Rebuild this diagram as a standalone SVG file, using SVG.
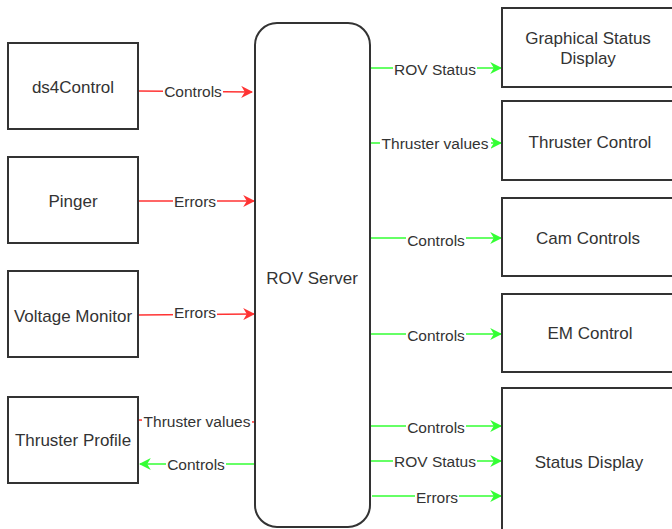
<svg xmlns="http://www.w3.org/2000/svg" width="672" height="529" viewBox="0 0 672 529">
  <style>
    .box { fill: #ffffff; stroke: #333333; stroke-width: 2; }
    .node-label { font-family: "Liberation Sans", Arial, sans-serif; font-size: 17px; fill: #333333; text-anchor: middle; dominant-baseline: central; }
    .edge-label { font-family: "Liberation Sans", Arial, sans-serif; font-size: 15.5px; fill: #333333; text-anchor: middle; dominant-baseline: central; }
    .lbl-bg { fill: #ffffff; }
    .red { stroke: #ff3333; stroke-width: 1.5; fill: none; }
    .green { stroke: #33ff33; stroke-width: 1.5; fill: none; }
  </style>
  <defs>
    <marker id="arrow-red" viewBox="0 0 10 10" refX="9" refY="5" markerWidth="7" markerHeight="7" orient="auto" markerUnits="userSpaceOnUse">
      <path d="M0,0 L10,5 L0,10 L3,5 Z" fill="#ff3333"/>
    </marker>
    <marker id="arrow-green" viewBox="0 0 10 10" refX="9" refY="5" markerWidth="12" markerHeight="12" orient="auto" markerUnits="userSpaceOnUse">
      <path d="M0,0 L10,5 L0,10 L3,5 Z" fill="#33ff33"/>
    </marker>
    <marker id="arrow-red-big" viewBox="0 0 10 10" refX="9" refY="5" markerWidth="12" markerHeight="12" orient="auto" markerUnits="userSpaceOnUse">
      <path d="M0,0 L10,5 L0,10 L3,5 Z" fill="#ff3333"/>
    </marker>
  </defs>

  <rect width="672" height="529" fill="#ffffff"/>

  <!-- connectors -->
  <g id="connectors">
    <!-- inputs into the server -->
    <line class="red" x1="138" y1="91" x2="252" y2="92" marker-end="url(#arrow-red-big)"/>
    <rect class="lbl-bg" x="163" y="83" width="60" height="16"/>
    <text class="edge-label" x="193" y="91">Controls</text>

    <line class="red" x1="138" y1="201" x2="254" y2="201" marker-end="url(#arrow-red-big)"/>
    <rect class="lbl-bg" x="173" y="193" width="44" height="16"/>
    <text class="edge-label" x="195" y="201">Errors</text>

    <line class="red" x1="138" y1="315" x2="254" y2="314" marker-end="url(#arrow-red-big)"/>
    <rect class="lbl-bg" x="173" y="304" width="44" height="16"/>
    <text class="edge-label" x="195" y="312">Errors</text>

    <line class="red" x1="255" y1="422" x2="138" y2="420"/>
    <rect class="lbl-bg" x="142" y="412" width="110" height="18"/>
    <text class="edge-label" x="197" y="421">Thruster values</text>

    <line class="green" x1="255" y1="464" x2="140" y2="464" marker-end="url(#arrow-green)"/>
    <rect class="lbl-bg" x="166" y="456" width="60" height="16"/>
    <text class="edge-label" x="196" y="464">Controls</text>

    <!-- outputs from the server -->
    <line class="green" x1="370" y1="68" x2="501" y2="68" marker-end="url(#arrow-green)"/>
    <rect class="lbl-bg" x="393" y="60" width="84" height="17"/>
    <text class="edge-label" x="435" y="69">ROV Status</text>

    <line class="green" x1="370" y1="143" x2="501" y2="143" marker-end="url(#arrow-green)"/>
    <rect class="lbl-bg" x="380" y="134" width="111" height="18"/>
    <text class="edge-label" x="435" y="143">Thruster values</text>

    <line class="green" x1="370" y1="238" x2="501" y2="238" marker-end="url(#arrow-green)"/>
    <rect class="lbl-bg" x="406" y="231" width="60" height="17"/>
    <text class="edge-label" x="436" y="240">Controls</text>

    <line class="green" x1="370" y1="334" x2="501" y2="334" marker-end="url(#arrow-green)"/>
    <rect class="lbl-bg" x="406" y="327" width="60" height="17"/>
    <text class="edge-label" x="436" y="335">Controls</text>

    <line class="green" x1="370" y1="426" x2="501" y2="426" marker-end="url(#arrow-green)"/>
    <rect class="lbl-bg" x="406" y="418" width="60" height="17"/>
    <text class="edge-label" x="436" y="427">Controls</text>

    <line class="green" x1="370" y1="461" x2="501" y2="461" marker-end="url(#arrow-green)"/>
    <rect class="lbl-bg" x="393" y="453" width="84" height="17"/>
    <text class="edge-label" x="435" y="461">ROV Status</text>

    <line class="green" x1="372" y1="496" x2="501" y2="496" marker-end="url(#arrow-green)"/>
    <rect class="lbl-bg" x="415" y="488" width="44" height="17"/>
    <text class="edge-label" x="437" y="497">Errors</text>
  </g>

  <!-- central server -->
  <g id="rov-server">
    <rect class="box" x="255" y="23" width="115" height="504" rx="22" ry="22"/>
    <text class="node-label" x="312" y="278">ROV Server</text>
  </g>

  <!-- producers on the left -->
  <g id="ds4control">
    <rect class="box" x="8" y="43" width="130" height="86"/>
    <text class="node-label" x="73" y="87">ds4Control</text>
  </g>
  <g id="pinger">
    <rect class="box" x="8" y="157" width="130" height="86"/>
    <text class="node-label" x="73" y="201">Pinger</text>
  </g>
  <g id="voltage-monitor">
    <rect class="box" x="8" y="271" width="130" height="86"/>
    <text class="node-label" x="73" y="316">Voltage Monitor</text>
  </g>
  <g id="thruster-profile">
    <rect class="box" x="8" y="397" width="130" height="86"/>
    <text class="node-label" x="73" y="440">Thruster Profile</text>
  </g>

  <!-- consumers on the right -->
  <g id="graphical-status-display">
    <rect class="box" x="502" y="8" width="180" height="79"/>
    <text class="node-label" x="588" y="38">Graphical Status</text>
    <text class="node-label" x="588" y="58">Display</text>
  </g>
  <g id="thruster-control">
    <rect class="box" x="502" y="101" width="180" height="79"/>
    <text class="node-label" x="590" y="142">Thruster Control</text>
  </g>
  <g id="cam-controls">
    <rect class="box" x="502" y="198" width="180" height="78"/>
    <text class="node-label" x="588" y="238">Cam Controls</text>
  </g>
  <g id="em-control">
    <rect class="box" x="502" y="294" width="180" height="78"/>
    <text class="node-label" x="590" y="333">EM Control</text>
  </g>
  <g id="status-display">
    <rect class="box" x="502" y="388" width="180" height="160"/>
    <text class="node-label" x="589" y="462">Status Display</text>
  </g>
</svg>
